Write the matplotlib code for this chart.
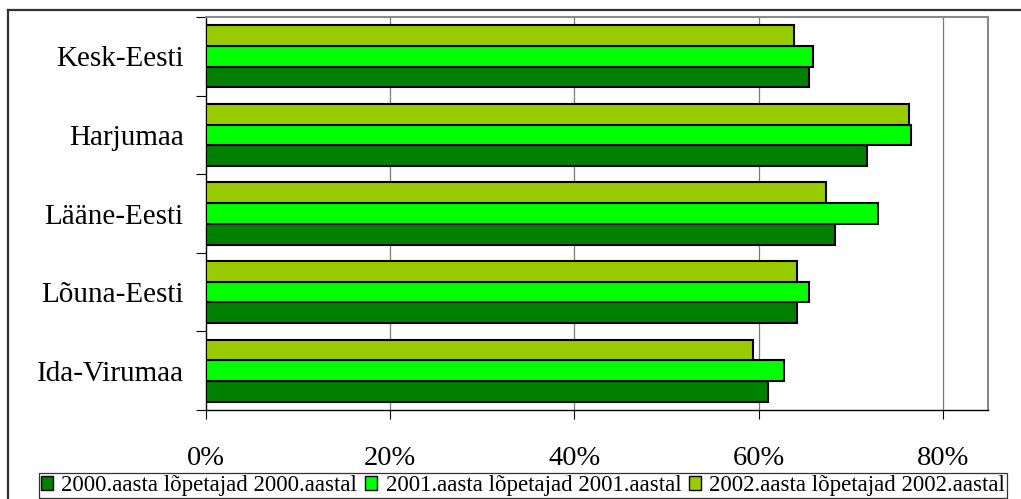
import matplotlib
matplotlib.use("Agg")
import matplotlib.pyplot as plt
from matplotlib.lines import Line2D
import numpy as np

plt.rcParams['font.family'] = ['Liberation Serif', 'DejaVu Serif']

categories = ["Kesk-Eesti", "Harjumaa", "Lääne-Eesti", "Lõuna-Eesti", "Ida-Virumaa"]
series_names = ["2000.aasta lõpetajad 2000.aastal",
                "2001.aasta lõpetajad 2001.aastal",
                "2002.aasta lõpetajad 2002.aastal"]
v2000 = [65.5, 71.8, 68.3, 64.2, 61.0]
v2001 = [65.9, 76.5, 73.0, 65.5, 62.8]
v2002 = [63.8, 76.3, 67.3, 64.2, 59.4]
xticks = [0, 20, 40, 60, 80]
xticklabels = ["0%", "20%", "40%", "60%", "80%"]

colors = ["#008000", "#00FF00", "#99CC00"]

W, H = 1021, 499
fig = plt.figure(figsize=(W / 100, H / 100), dpi=100)
ax = fig.add_axes([206 / W, 1 - 410 / H, (988 - 206) / W, (410 - 17) / H])

y = np.arange(len(categories))
h = 0.263
lw = 1.5
ax.barh(y + h, v2000, height=h, color=colors[0], edgecolor="black", linewidth=lw, label=series_names[0], zorder=3)
ax.barh(y, v2001, height=h, color=colors[1], edgecolor="black", linewidth=lw, label=series_names[1], zorder=3)
ax.barh(y - h, v2002, height=h, color=colors[2], edgecolor="black", linewidth=lw, label=series_names[2], zorder=3)

ax.set_xlim(0, 84.9)
ax.set_ylim(len(categories) - 0.5, -0.5)

ax.set_xticks(xticks)
ax.set_xticklabels(xticklabels, fontsize=20.5)
ax.tick_params(axis="x", direction="out", length=6.5, width=0.8, color="black", pad=19.5)
for xv in xticks[1:]:
    ax.axvline(xv, color="#7a7a7a", linewidth=0.9, zorder=1)

ax.set_yticks(y)
ax.set_yticklabels(categories, fontsize=21)
ax.tick_params(axis="y", which="major", length=0, pad=16)
ax.set_yticks(np.arange(-0.5, len(categories), 1.0), minor=True)
ax.tick_params(axis="y", which="minor", direction="out", length=7.5, width=0.8, color="black")

for s in ["left", "bottom"]:
    ax.spines[s].set_color("black")
    ax.spines[s].set_linewidth(1.0)
for s in ["top", "right"]:
    ax.spines[s].set_color("#8a8a8a")
    ax.spines[s].set_linewidth(1.5)

handles, labels = ax.get_legend_handles_labels()
leg = fig.legend(handles, labels, loc="lower left", ncol=3, mode="expand",
                 bbox_to_anchor=(39 / W, 1 - 498 / H, (1007 - 39) / W, 26 / H),
                 fontsize=16.5, frameon=True, fancybox=False, shadow=False,
                 handlelength=0.55, handleheight=0.55, handletextpad=0.35,
                 borderaxespad=0, borderpad=0.08, columnspacing=0.6)
leg.get_frame().set_edgecolor("black")
leg.get_frame().set_linewidth(0.9)
for p in leg.get_patches():
    p.set_linewidth(1.0)

# outer frame
fig.add_artist(Line2D([8 / W, 1.0], [1 - 10 / H, 1 - 10 / H], transform=fig.transFigure, color="#333333", linewidth=1.6))
fig.add_artist(Line2D([8 / W, 8 / W], [1 - 10 / H, 0.0], transform=fig.transFigure, color="#333333", linewidth=1.6))

fig.savefig("out.png", dpi=100)
